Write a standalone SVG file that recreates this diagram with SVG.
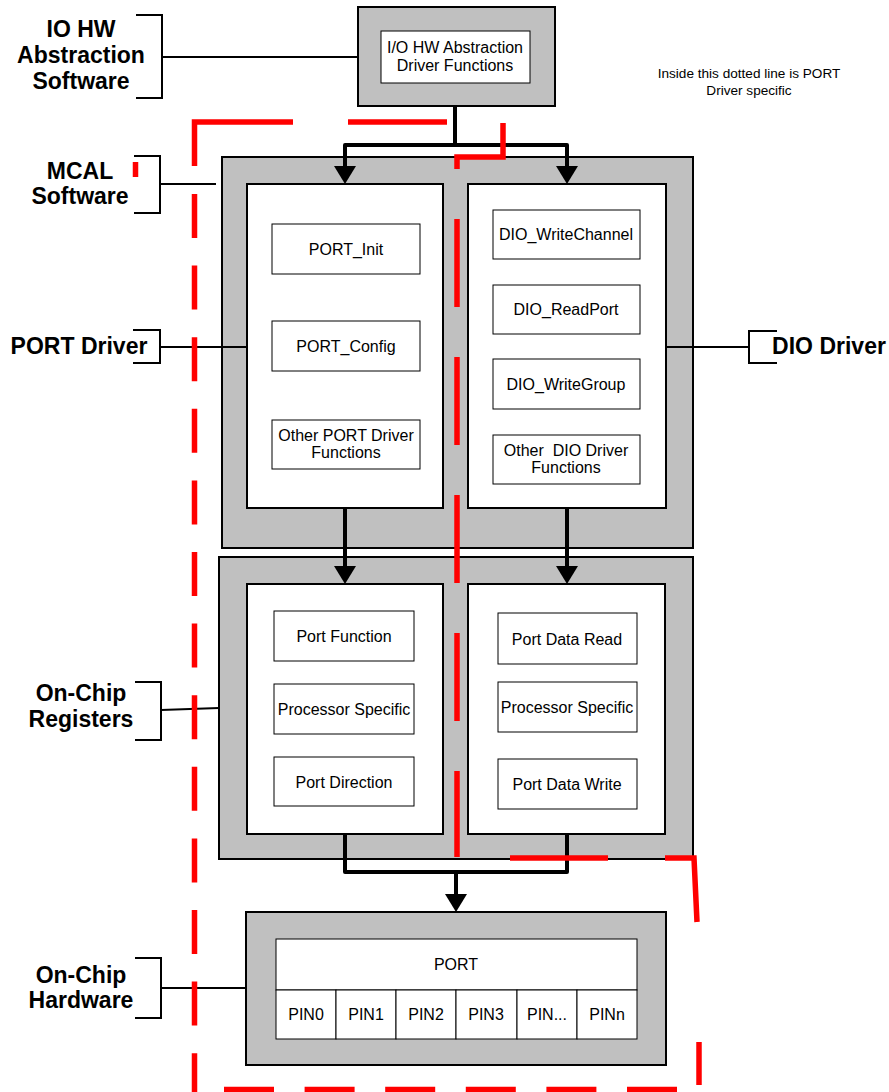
<svg xmlns="http://www.w3.org/2000/svg" width="889" height="1092" viewBox="0 0 889 1092">
<style>
.bg{fill:#fff}
.gray{fill:#C0C0C0;stroke:#000;stroke-width:2}
.white{fill:#fff;stroke:#000;stroke-width:2}
.fn{fill:#fff;stroke:#000;stroke-width:1}
.t{font-family:"Liberation Sans",Arial,sans-serif;font-size:16px;fill:#000;text-anchor:middle}
.note{font-family:"Liberation Sans",Arial,sans-serif;font-size:13.6px;fill:#000;text-anchor:middle}
.lbl{font-family:"Liberation Sans",Arial,sans-serif;font-size:23px;font-weight:bold;fill:#000;text-anchor:middle}
.thin{fill:none;stroke:#000;stroke-width:2}
.conn{fill:none;stroke:#000;stroke-width:4;stroke-linejoin:round}
.red{fill:none;stroke:#FF0000;stroke-width:5.5}
</style>
<defs>
<marker id="ah" markerUnits="userSpaceOnUse" markerWidth="18" markerHeight="22" refX="0" refY="11" orient="auto" viewBox="0 0 18 22">
<path d="M0,0 L18,11 L0,22 Z" fill="#000"/>
</marker>
</defs>
<rect class="bg" x="0" y="0" width="889" height="1092"/>

<g id="node-iohw">
<rect class="gray" x="358" y="7" width="197" height="99"/>
<rect class="fn" x="381" y="31" width="149" height="52"/>
<text class="t" x="455" y="53">I/O HW Abstraction</text>
<text class="t" x="455" y="71">Driver Functions</text>
</g>

<g id="node-mcal">
<rect class="gray" x="222" y="157" width="471" height="391"/>
<g id="node-portdrv">
<rect class="white" x="247" y="184" width="196" height="324"/>
<rect class="fn" x="272" y="224" width="148" height="50"/>
<text class="t" x="346" y="255">PORT_Init</text>
<rect class="fn" x="272" y="321" width="148" height="50"/>
<text class="t" x="346" y="352">PORT_Config</text>
<rect class="fn" x="272" y="420" width="148" height="49"/>
<text class="t" x="346" y="441">Other PORT Driver</text>
<text class="t" x="346" y="458">Functions</text>
</g>
<g id="node-diodrv">
<rect class="white" x="468" y="184" width="198" height="324"/>
<rect class="fn" x="493" y="210" width="147" height="49"/>
<text class="t" x="566" y="240">DIO_WriteChannel</text>
<rect class="fn" x="493" y="285" width="147" height="49"/>
<text class="t" x="566" y="315">DIO_ReadPort</text>
<rect class="fn" x="493" y="359" width="147" height="50"/>
<text class="t" x="566" y="390">DIO_WriteGroup</text>
<rect class="fn" x="493" y="435" width="147" height="49"/>
<text class="t" x="566" y="456" xml:space="preserve">Other  DIO Driver</text>
<text class="t" x="566" y="473">Functions</text>
</g>
</g>

<g id="node-registers">
<rect class="gray" x="219" y="557" width="474" height="302"/>
<g id="node-portreg">
<rect class="white" x="247" y="584" width="196" height="250"/>
<rect class="fn" x="274" y="611" width="140" height="50"/>
<text class="t" x="344" y="642">Port Function</text>
<rect class="fn" x="274" y="684" width="140" height="50"/>
<text class="t" x="344" y="715">Processor Specific</text>
<rect class="fn" x="274" y="757" width="140" height="49"/>
<text class="t" x="344" y="788">Port Direction</text>
</g>
<g id="node-dioreg">
<rect class="white" x="468" y="584" width="197" height="250"/>
<rect class="fn" x="498" y="613" width="139" height="51"/>
<text class="t" x="567" y="645">Port Data Read</text>
<rect class="fn" x="498" y="682" width="139" height="50"/>
<text class="t" x="567" y="713">Processor Specific</text>
<rect class="fn" x="498" y="759" width="139" height="50"/>
<text class="t" x="567" y="790">Port Data Write</text>
</g>
</g>

<g id="node-hardware">
<rect class="gray" x="246" y="912" width="420" height="153"/>
<rect class="fn" x="276" y="939" width="361" height="51"/>
<text class="t" x="456" y="970">PORT</text>
<rect class="fn" x="276" y="990" width="60" height="49"/>
<rect class="fn" x="336" y="990" width="60" height="49"/>
<rect class="fn" x="396" y="990" width="60" height="49"/>
<rect class="fn" x="456" y="990" width="61" height="49"/>
<rect class="fn" x="517" y="990" width="60" height="49"/>
<rect class="fn" x="577" y="990" width="60" height="49"/>
<text class="t" x="306" y="1020">PIN0</text>
<text class="t" x="366" y="1020">PIN1</text>
<text class="t" x="426" y="1020">PIN2</text>
<text class="t" x="486" y="1020">PIN3</text>
<text class="t" x="547" y="1020">PIN...</text>
<text class="t" x="607" y="1020">PINn</text>
</g>

<g id="labels">
<g id="lbl-iohw">
<path class="thin" d="M136,15 H162 V98 H136"/>
<line class="thin" x1="162" y1="57" x2="358" y2="57"/>
<text class="lbl" x="81" y="37">IO HW</text>
<text class="lbl" x="81" y="63">Abstraction</text>
<text class="lbl" x="81" y="89">Software</text>
</g>
<g id="lbl-mcal">
<path class="thin" d="M134,156 H160 V213 H134"/>
<line class="thin" x1="160" y1="184" x2="216" y2="184"/>
<text class="lbl" x="80" y="179">MCAL</text>
<text class="lbl" x="80" y="204">Software</text>
</g>
<g id="lbl-port">
<path class="thin" d="M133,330 H160 V363 H133"/>
<line class="thin" x1="160" y1="347" x2="247" y2="347"/>
<text class="lbl" x="79" y="354">PORT Driver</text>
</g>
<g id="lbl-dio">
<path class="thin" d="M777,331 H749 V363 H777"/>
<line class="thin" x1="666" y1="347" x2="749" y2="347"/>
<text class="lbl" x="829" y="354">DIO Driver</text>
</g>
<g id="lbl-reg">
<path class="thin" d="M135,682 H161 V740 H135"/>
<line class="thin" x1="161" y1="710" x2="219" y2="708"/>
<text class="lbl" x="81" y="701">On-Chip</text>
<text class="lbl" x="81" y="727">Registers</text>
</g>
<g id="lbl-hw">
<path class="thin" d="M135,958 H161 V1018 H135"/>
<line class="thin" x1="161" y1="988" x2="246" y2="988"/>
<text class="lbl" x="81" y="983">On-Chip</text>
<text class="lbl" x="81" y="1008">Hardware</text>
</g>
<g id="note">
<text class="note" x="749" y="78">Inside this dotted line is PORT</text>
<text class="note" x="749" y="95">Driver specific</text>
</g>
</g>

<g id="connectors">
<path class="conn" d="M455,107 V145"/>
<path class="conn" d="M345,166 V145 H567 V166" marker-end="url(#ah)"/>
<path class="conn" d="M345,145 V166" marker-end="url(#ah)"/>
<path class="conn" d="M345,508 V566" marker-end="url(#ah)"/>
<path class="conn" d="M567,508 V566" marker-end="url(#ah)"/>
<path class="conn" d="M345,834 V872 H567 V834"/>
<path class="conn" d="M456,872 V894" marker-end="url(#ah)"/>
</g>

<g id="port-boundary">
<path class="red" d="M194.5,166 V122 H293"/>
<line class="red" x1="348" y1="122" x2="447" y2="122"/>
<path class="red" d="M503,123 V157 H457 V169"/>
<line class="red" x1="457" y1="219" x2="457" y2="857" stroke-dasharray="88 50"/>
<line class="red" x1="194.5" y1="194" x2="194.5" y2="1092" stroke-dasharray="44 27.6"/>
<line class="red" x1="135.5" y1="162" x2="135.5" y2="177"/>
<line class="red" x1="510" y1="858" x2="608" y2="858"/>
<path class="red" d="M665,858 H694 L697,922"/>
<line class="red" x1="699" y1="1042" x2="699" y2="1085"/>
<line class="red" x1="224" y1="1089.5" x2="680" y2="1089.5" stroke-dasharray="50 30.6"/>
</g>
</svg>
